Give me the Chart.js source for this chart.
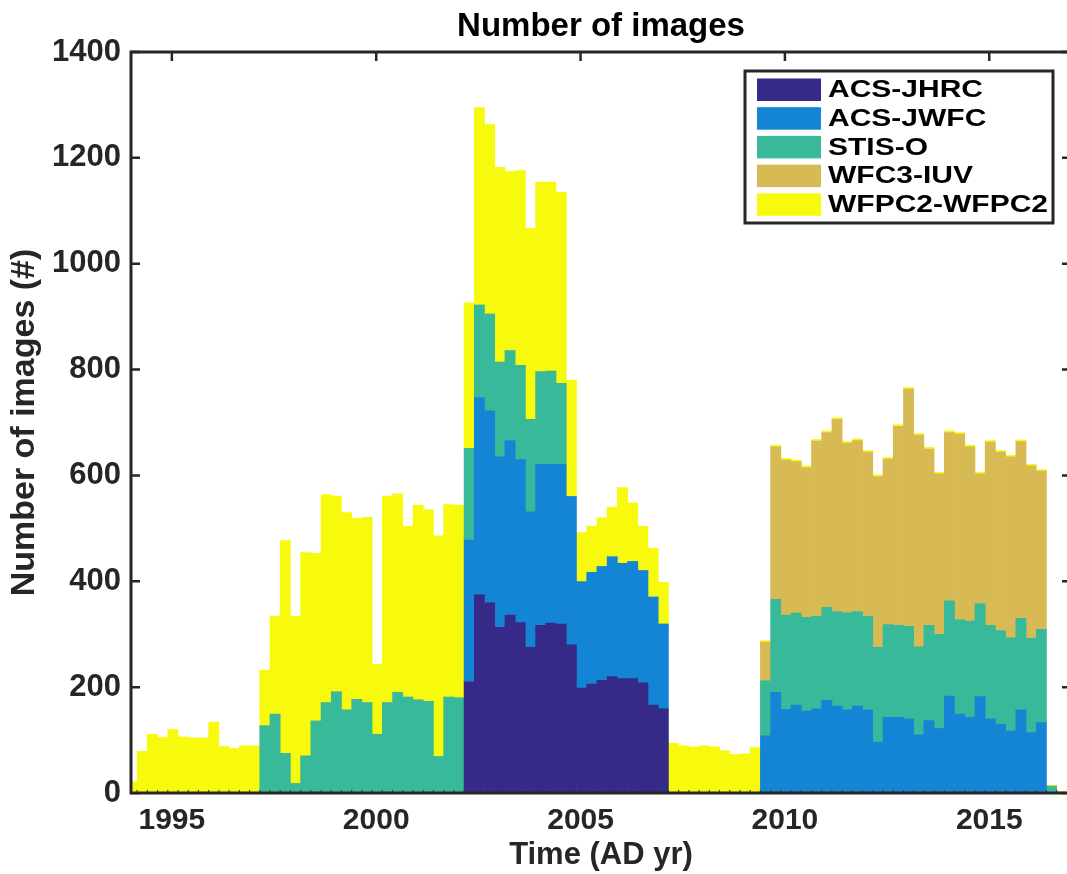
<!DOCTYPE html>
<html lang="en">
<head>
<meta charset="UTF-8">
<title>Number of images</title>
<script src="https://cdn.jsdelivr.net/npm/chart.js"></script>
<style>
  html, body { margin: 0; padding: 0; background: #fff; overflow: hidden; }
</style>
</head>
<body>
<canvas id="imagesChart" width="1080" height="874"></canvas>
<script>
// quarter-year histogram bins (centres), first bin starts 1993.9
const binCentres = Array.from({ length: 92 }, (_, i) => 1994.025 + i * 0.25);
const xTicks = [1995, 2000, 2005, 2010, 2015];
const yTicks = [0, 200, 400, 600, 800, 1000, 1200, 1400];

const acsJhrc = [
  0,0,0,0,0,0,0,0,0,0,
  0,0,0,0,0,0,0,0,0,0,
  0,0,0,0,0,0,0,0,0,0,
  0,0,0,210,375,360,313,336,322,275,
  317,321,319,280,198,206,213,220,216,216,
  208,166,159,0,0,0,0,0,0,0,
  0,0,0,0,0,0,0,0,0,0,
  0,0,0,0,0,0,0,0,0,0,
  0,0,0,0,0,0,0,0,0,0,
  0,0
];
const acsJwfc = [
  0,0,0,0,0,0,0,0,0,0,
  0,0,0,0,0,0,0,0,0,0,
  0,0,0,0,0,0,0,0,0,0,
  0,0,0,268,372,362,322,330,308,256,
  304,300,302,280,201,211,215,226,218,221,
  212,204,160,0,0,0,0,0,0,0,
  0,0,108,190,158,166,155,159,175,164,
  157,164,157,96,143,143,140,110,137,122,
  183,149,143,182,140,130,117,157,114,133,
  0,0
];
const stisO = [
  0,0,0,0,0,0,0,0,0,0,
  0,0,0,127,149,75,18,70,136,171,
  191,157,177,171,111,171,190,181,176,173,
  69,181,180,173,175,183,179,170,178,175,
  175,176,153,0,0,0,0,0,0,0,
  0,0,0,0,0,0,0,0,0,0,
  0,0,104,176,178,174,177,175,176,179,
  184,179,177,179,175,174,175,166,180,178,
  180,178,182,176,177,177,176,173,178,176,
  13,0
];
const wfc3Iuv = [
  0,0,0,0,0,0,0,0,0,0,
  0,0,0,0,0,0,0,0,0,0,
  0,0,0,0,0,0,0,0,0,0,
  0,0,0,0,0,0,0,0,0,0,
  0,0,0,0,0,0,0,0,0,0,
  0,0,0,0,0,0,0,0,0,0,
  0,0,73,288,293,286,283,331,330,363,
  320,323,310,323,313,376,448,400,333,303,
  318,351,329,245,346,337,342,334,326,299,
  0,2
];
const wfpc2 = [
  21,79,111,105,120,106,104,104,134,88,
  84,89,89,105,185,402,316,384,317,393,
  370,373,342,350,132,390,375,323,368,362,
  417,364,364,275,373,358,368,338,368,361,
  358,357,361,220,93,87,92,94,143,111,
  84,92,79,94,89,87,89,87,80,73,
  74,86,3,3,3,3,3,3,3,3,
  3,3,3,3,3,3,3,3,3,3,
  3,3,3,3,3,3,3,3,3,3,
  2,1
];

const boldFont = '"Liberation Sans", Arial, sans-serif';
const axisColor = '#262626';

// box, inward ticks and small bin marks like the matlab axes
const framePlugin = {
  id: 'frame',
  beforeDatasetsDraw(chart) {
    const { ctx, chartArea: a, scales: { x, y } } = chart;
    ctx.save();
    ctx.strokeStyle = axisColor;
    ctx.lineWidth = 2.5;
    ctx.beginPath();
    yTicks.forEach(v => {
      const py = y.getPixelForValue(v);
      ctx.moveTo(a.left, py); ctx.lineTo(a.left + 9, py);
      ctx.moveTo(a.right, py); ctx.lineTo(a.right - 9, py);
    });
    xTicks.forEach(v => {
      const px = x.getPixelForValue(v);
      ctx.moveTo(px, a.bottom); ctx.lineTo(px, a.bottom - 9);
      ctx.moveTo(px, a.top); ctx.lineTo(px, a.top + 9);
    });
    ctx.stroke();
    ctx.restore();
  },
  afterDatasetsDraw(chart) {
    const { ctx, chartArea: a, scales: { x } } = chart;
    ctx.save();
    ctx.strokeStyle = '#444';
    ctx.lineWidth = 1.2;
    ctx.beginPath();
    binCentres.forEach(c => {
      const px = x.getPixelForValue(c - 0.125);
      if (px > a.left && px < a.right) {
        ctx.moveTo(px, a.bottom); ctx.lineTo(px, a.bottom - 3);
      }
    });
    ctx.stroke();
    ctx.strokeStyle = axisColor;
    ctx.lineWidth = 3;
    ctx.strokeRect(a.left, a.top, a.width, a.height);
    ctx.restore();
  }
};

// boxed legend in the upper right corner
const legendPlugin = {
  id: 'boxLegend',
  afterDraw(chart) {
    const ctx = chart.ctx;
    const x0 = 745, y0 = 71, w = 308, h = 152;
    ctx.save();
    ctx.fillStyle = '#fff';
    ctx.fillRect(x0, y0, w, h);
    ctx.strokeStyle = axisColor;
    ctx.lineWidth = 3;
    ctx.strokeRect(x0, y0, w, h);
    ctx.font = 'bold 24px ' + boldFont;
    ctx.textBaseline = 'middle';
    chart.data.datasets.forEach((ds, i) => {
      const top = y0 + 7.5 + i * 28.7;
      ctx.fillStyle = ds.backgroundColor;
      ctx.fillRect(x0 + 12, top, 64, 22.5);
      ctx.save();
      ctx.translate(x0 + 83, top + 12);
      ctx.scale(1.25, 1);
      ctx.fillStyle = '#000';
      ctx.fillText(ds.label, 0, 0);
      ctx.restore();
    });
    ctx.restore();
  }
};

const ctx = document.getElementById('imagesChart').getContext('2d');
const imagesChart = new Chart(ctx, {
  type: 'bar',
  data: {
    labels: binCentres,
    datasets: [
      { label: 'ACS-JHRC', data: acsJhrc, backgroundColor: '#352a87' },
      { label: 'ACS-JWFC', data: acsJwfc, backgroundColor: '#1485d5' },
      { label: 'STIS-O', data: stisO, backgroundColor: '#38b99a' },
      { label: 'WFC3-IUV', data: wfc3Iuv, backgroundColor: '#d8ba55' },
      { label: 'WFPC2-WFPC2', data: wfpc2, backgroundColor: '#f8fa0d' }
    ]
  },
  options: {
    responsive: false,
    animation: false,
    layout: { padding: { left: 0, right: 9, top: 0, bottom: 0 } },
    datasets: { bar: { barPercentage: 1, categoryPercentage: 1, borderWidth: 0 } },
    plugins: {
      legend: { display: false },
      tooltip: { enabled: false },
      title: {
        display: true,
        text: 'Number of images',
        fullSize: false,
        color: '#000',
        font: { family: boldFont, size: 33, weight: 'bold', lineHeight: 1.2 },
        padding: { top: 7, bottom: 5.4 }
      }
    },
    scales: {
      x: {
        type: 'linear',
        offset: false,
        stacked: true,
        min: 1994,
        max: 2017,
        afterBuildTicks: s => { s.ticks = xTicks.map(v => ({ value: v })); },
        afterFit: s => { s.height = 81; },
        grid: { display: false, drawTicks: false },
        border: { display: false },
        ticks: {
          color: axisColor,
          padding: 10,
          maxRotation: 0,
          font: { family: boldFont, size: 30, weight: 'bold' },
          callback: v => String(v)
        },
        title: {
          display: true,
          text: 'Time (AD yr)',
          color: axisColor,
          font: { family: boldFont, size: 31, weight: 'bold', lineHeight: 1.2 },
          padding: { top: 0, bottom: 0 }
        }
      },
      y: {
        stacked: true,
        min: 0,
        max: 1400,
        afterBuildTicks: s => { s.ticks = yTicks.map(v => ({ value: v })); },
        afterFit: s => { s.width = 131; },
        grid: { display: false, drawTicks: false },
        border: { display: false },
        ticks: {
          color: axisColor,
          padding: 10,
          font: { family: boldFont, size: 31, weight: 'bold' },
          callback: v => String(v)
        },
        title: {
          display: true,
          text: 'Number of images (#)',
          color: axisColor,
          font: { family: boldFont, size: 34, weight: 'bold', lineHeight: 1.2 },
          padding: { top: 4, bottom: 0 }
        }
      }
    }
  },
  plugins: [framePlugin, legendPlugin]
});
</script>
</body>
</html>
